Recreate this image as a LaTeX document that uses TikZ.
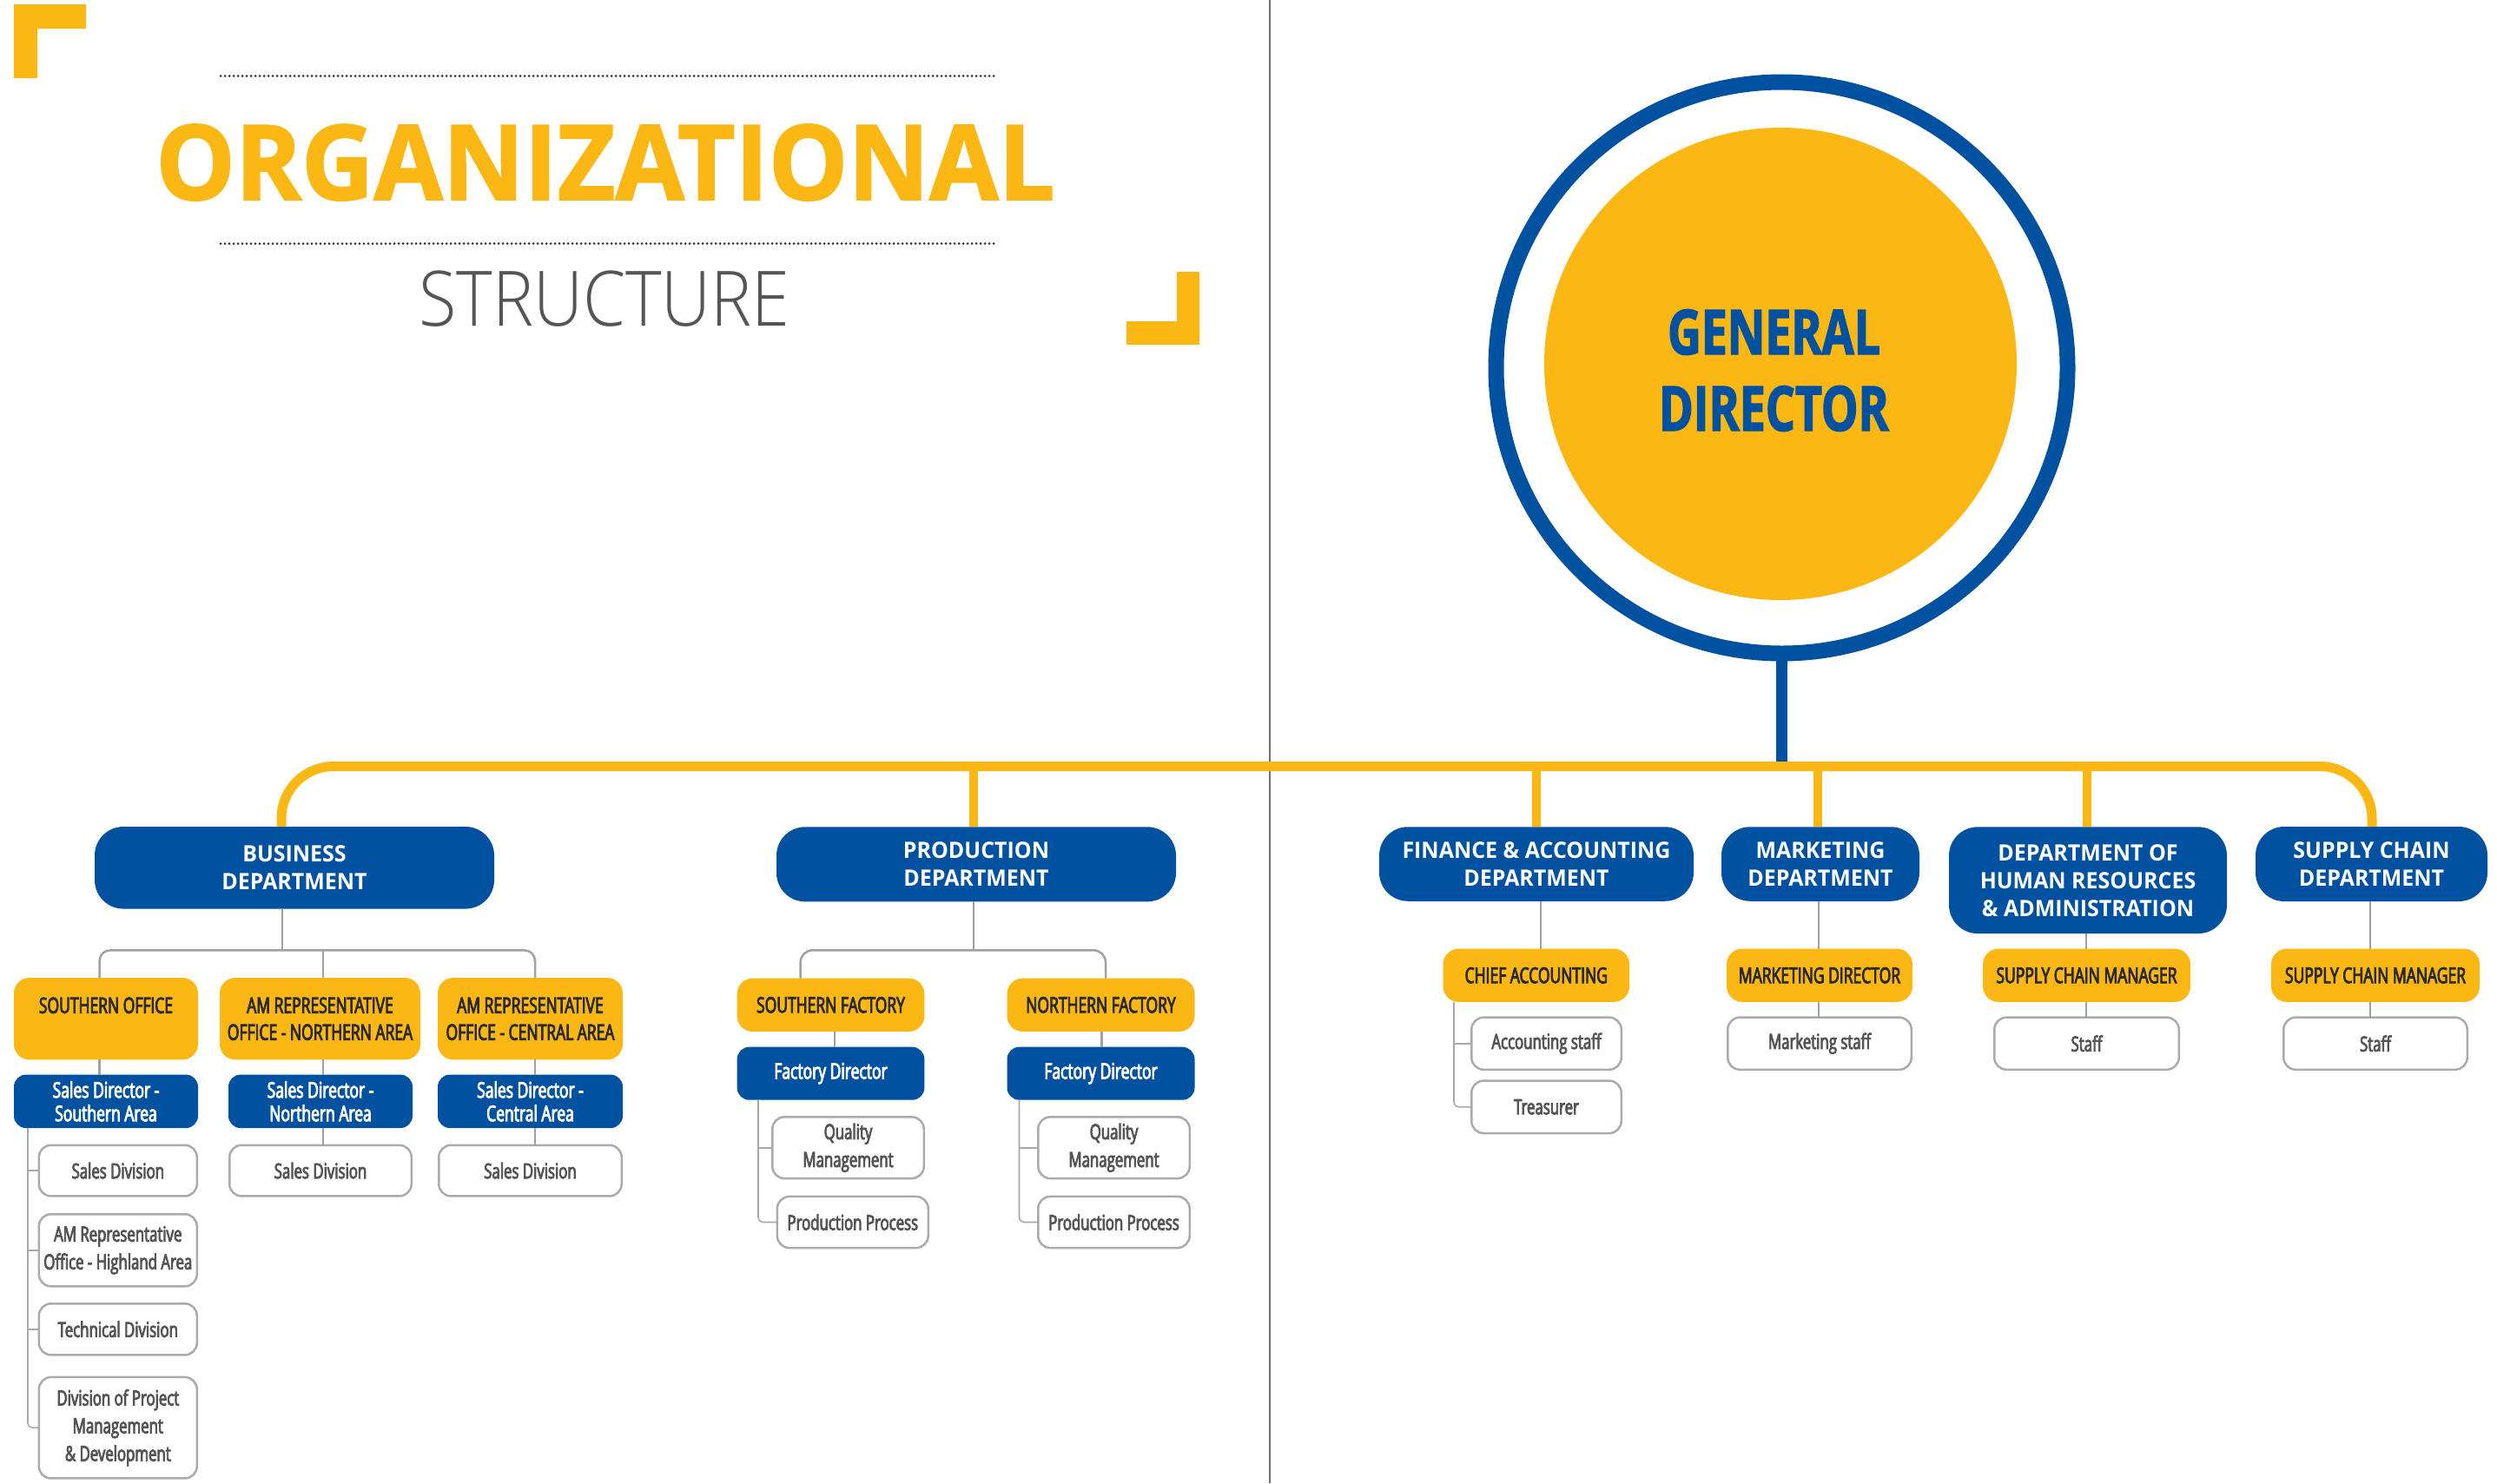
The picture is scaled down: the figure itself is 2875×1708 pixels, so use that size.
\documentclass[tikz,border=0pt]{standalone}
\usepackage{fontspec}
\setmainfont{Open Sans}
\newfontfamily\hd{Open Sans}[FakeStretch=0.96]
\newfontfamily\ttl{Open Sans}[FakeStretch=0.96, FakeBold=1.5]
\IfFontExistsTF{Open Sans Light}{\newfontfamily\stc{Open Sans Light}[FakeStretch=0.90]}{\newfontfamily\stc{Open Sans}[FakeStretch=0.90]}
\newfontfamily\gdf{Open Sans}[FakeStretch=0.75, FakeBold=2.0]
\newfontfamily\cnd{Open Sans}[FakeStretch=0.70, FakeBold=3.5]
\definecolor{yel}{HTML}{FBB714}
\definecolor{blu}{HTML}{00519F}
\definecolor{dk}{HTML}{2A2A2A}
\definecolor{tgray}{HTML}{555555}
\definecolor{cgray}{HTML}{A0A1A3}
\definecolor{bgray}{HTML}{ABABAB}
\definecolor{lgray}{HTML}{A8A8A8}
\definecolor{dgray}{HTML}{333333}
\definecolor{divg}{HTML}{707070}
\tikzset{
 dept/.style={fill=blu, rounded corners=16.5pt, text=white, font=\hd\bfseries\fontsize{13}{16}\selectfont, align=center, inner sep=0pt, outer sep=0pt},
 ybox/.style={fill=yel, rounded corners=9pt, text=dk, font=\cnd\fontsize{12.5}{15.5}\selectfont, align=center, inner sep=0pt, outer sep=0pt},
 bbox/.style={fill=blu, rounded corners=7pt, text=white, font=\cnd\fontsize{12.5}{13.5}\selectfont, align=center, inner sep=0pt, outer sep=0pt},
 wbox/.style={draw=bgray, line width=1.25pt, fill=white, rounded corners=7pt, text=tgray, font=\cnd\fontsize{12}{16}\selectfont, align=center, inner sep=0pt, outer sep=0pt},
 conn/.style={draw=cgray, line width=1.25pt},
 treeline/.style={draw=lgray, line width=0.8pt},
 ybar/.style={draw=yel, line width=5.5pt},
 ydrop/.style={draw=yel, line width=5.25pt},
 stemline/.style={draw=blu, line width=6.5pt},
 dotline/.style={draw=dgray, line width=1.5pt, line cap=round, dash pattern=on 0pt off 2.5pt},
}
\begin{document}
\begin{tikzpicture}[x=0.5pt,y=-0.5pt]
\useasboundingbox (0,0) rectangle (2875,1708);
\fill[white] (0,0) rectangle (2875,1708);
% divider
\draw[divg, line width=1pt] (1462,0) -- (1462,1708);
% corner marks
\fill[yel] (16,5) -- (99,5) -- (99,33) -- (43,33) -- (43,90) -- (16,90) -- cycle;
\fill[yel] (1381,313) -- (1381,397) -- (1297,397) -- (1297,370) -- (1355,370) -- (1355,313) -- cycle;
% title
\draw[dotline] (254,87.5) -- (1144,87.5);
\draw[dotline] (254,280.5) -- (1144,280.5);
\node[anchor=base, text=yel, font=\ttl\bfseries\fontsize{60}{60}\selectfont, inner sep=0pt] (title) at (697,230) {ORGANIZATIONAL};
\node[anchor=base, text=tgray, font=\stc\fontsize{44}{44}\selectfont, inner sep=0pt] (subtitle) at (696,375) {STRUCTURE};
% general director
\node[circle, draw=blu, line width=9pt, minimum size=329pt, inner sep=0pt, outer sep=0pt] (ring) at (2051.5,423.5) {};
\node[circle, fill=yel, minimum size=272pt, inner sep=0pt] (gdc) at (2050,419) {};
\node[align=center, text=blu, font=\gdf\bfseries\fontsize{35.7}{44}\selectfont, inner sep=0pt] (gd) at (2042.5,426.5) {GENERAL\\DIRECTOR};
% departments
\node[dept, minimum width=230pt, minimum height=47.25pt] (bus) at (339,999.3) {BUSINESS\\DEPARTMENT};
\node[dept, minimum width=230pt, minimum height=43pt] (prod) at (1124,995.3) {PRODUCTION\\DEPARTMENT};
\node[dept, minimum width=181pt, minimum height=42.75pt] (fin) at (1769,995) {FINANCE \& ACCOUNTING\\DEPARTMENT};
\node[dept, minimum width=114pt, minimum height=42.75pt] (mkt) at (2096,995) {MARKETING\\DEPARTMENT};
\node[dept, minimum width=160pt, minimum height=61.35pt] (hr) at (2404,1013.7) {DEPARTMENT OF\\HUMAN RESOURCES\\\& ADMINISTRATION};
\node[dept, minimum width=133.5pt, minimum height=43pt] (sc) at (2730.5,995) {SUPPLY CHAIN\\DEPARTMENT};
% yellow bar and stem
\coordinate (yL) at (324,882.5);
\coordinate (yR) at (2731,882.5);
\coordinate (y1) at (1121,882.5);
\coordinate (y2) at (1769,882.5);
\coordinate (y3) at (2093,882.5);
\coordinate (y4) at (2403,882.5);
\draw[stemline] (ring.south) -- (ring.south |- yL);
\draw[ybar, rounded corners=30pt] (bus.north -| yL) -- (yL) -- (yR) -- (sc.north -| yR);
\draw[ydrop] (y1) -- (y1 |- prod.north);
\draw[ydrop] (y2) -- (y2 |- fin.north);
\draw[ydrop] (y3) -- (y3 |- mkt.north);
\draw[ydrop] (y4) -- (y4 |- hr.north);
% business department
\node[ybox, minimum width=106pt, minimum height=47.2pt] (so) at (122,1173.2) {SOUTHERN OFFICE\\\mbox{}};
\node[ybox, minimum width=115.5pt, minimum height=47.2pt] (amn) at (368.5,1173.2) {AM REPRESENTATIVE\\OFFICE - NORTHERN AREA};
\node[ybox, minimum width=106.5pt, minimum height=47.2pt] (amc) at (610.5,1173.2) {AM REPRESENTATIVE\\OFFICE - CENTRAL AREA};
\node[bbox, minimum width=106pt, minimum height=30.75pt] (sds) at (122,1268.3) {Sales Director -\\Southern Area};
\node[bbox, minimum width=106pt, minimum height=30.75pt] (sdn) at (369,1268.3) {Sales Director -\\Northern Area};
\node[bbox, minimum width=106.5pt, minimum height=30.75pt] (sdc) at (610.5,1268.3) {Sales Director -\\Central Area};
\node[wbox, minimum width=91pt, minimum height=29.35pt] (sdvs) at (135.8,1348.1) {Sales Division};
\node[wbox, minimum width=91pt, minimum height=41.55pt] (amh) at (135.8,1439.8) {AM Representative\\Office - Highland Area};
\node[wbox, minimum width=91pt, minimum height=29.55pt] (tech) at (135.8,1530.8) {Technical Division};
\node[wbox, minimum width=91pt, minimum height=58.25pt] (dpm) at (135.8,1644.2) {Division of Project\\Management\\\& Development};
\node[wbox, minimum width=104.75pt, minimum height=29.35pt] (sdvn) at (369,1348.1) {Sales Division};
\node[wbox, minimum width=105.25pt, minimum height=29.35pt] (sdvc) at (610.5,1348.1) {Sales Division};
\coordinate (bj) at (325,1094.4);
\coordinate (bl) at (114.6,1094.4);
\coordinate (bm) at (372,1094.4);
\coordinate (br) at (616,1094.4);
\coordinate (tS) at (32,1299);
\draw[conn] (bus.south -| bj) -- (bj);
\draw[conn, rounded corners=6pt] (so.north -| bl) -- (bl) -- (br) -- (amc.north -| br);
\draw[conn] (bm) -- (amn.north -| bm);
\draw[conn] (so.south -| bl) -- (sds.north -| bl);
\draw[conn] (amn.south -| bm) -- (sdn.north -| bm);
\draw[conn] (amc.south -| br) -- (sdc.north -| br);
\draw[conn] (sdn.south -| bm) -- (sdvn.north -| bm);
\draw[conn] (sdc.south -| br) -- (sdvc.north -| br);
\draw[treeline, rounded corners=3pt] (sds.south -| tS) -- (dpm.west -| tS) -- (dpm.west);
\draw[treeline] (sdvs.west -| tS) -- (sdvs.west);
\draw[treeline] (amh.west -| tS) -- (amh.west);
\draw[treeline] (tech.west -| tS) -- (tech.west);
% production department
\node[ybox, minimum width=107.85pt, minimum height=30.65pt] (sf) at (956.5,1157.3) {SOUTHERN FACTORY};
\node[ybox, minimum width=108pt, minimum height=30.65pt] (nf) at (1267.5,1157.3) {NORTHERN FACTORY};
\node[bbox, minimum width=107.85pt, minimum height=30.5pt] (fd1) at (956.5,1236.2) {Factory Director};
\node[bbox, minimum width=108pt, minimum height=30.5pt] (fd2) at (1267.5,1236.2) {Factory Director};
\node[wbox, minimum width=87.25pt, minimum height=35.4pt] (qm1) at (976.5,1321.7) {Quality\\Management};
\node[wbox, minimum width=86.95pt, minimum height=29.55pt] (pp1) at (981.8,1407.5) {Production Process};
\node[wbox, minimum width=87.25pt, minimum height=35.4pt] (qm2) at (1282.5,1321.7) {Quality\\Management};
\node[wbox, minimum width=87.25pt, minimum height=29.55pt] (pp2) at (1282.5,1407.5) {Production Process};
\coordinate (pj) at (1121,1094.3);
\coordinate (pl) at (921.6,1094.3);
\coordinate (pr) at (1273,1094.3);
\coordinate (px1) at (961,0);
\coordinate (px2) at (1268.7,0);
\coordinate (pt1) at (873,0);
\coordinate (pt2) at (1173.5,0);
\draw[conn] (prod.south -| pj) -- (pj);
\draw[conn, rounded corners=7pt] (sf.north -| pl) -- (pl) -- (pr) -- (nf.north -| pr);
\draw[conn] (sf.south -| px1) -- (fd1.north -| px1);
\draw[conn] (nf.south -| px2) -- (fd2.north -| px2);
\draw[treeline, rounded corners=3pt] (fd1.south -| pt1) -- (pp1.west -| pt1) -- (pp1.west);
\draw[treeline] (qm1.west -| pt1) -- (qm1.west);
\draw[treeline, rounded corners=3pt] (fd2.south -| pt2) -- (pp2.west -| pt2) -- (pp2.west);
\draw[treeline] (qm2.west -| pt2) -- (qm2.west);
% right departments
\node[ybox, minimum width=107.25pt, minimum height=30.65pt] (ca) at (1768.8,1123.2) {CHIEF ACCOUNTING};
\node[ybox, minimum width=107pt, minimum height=30.65pt] (md) at (2095,1123.2) {MARKETING DIRECTOR};
\node[ybox, minimum width=119.5pt, minimum height=30.65pt] (scm1) at (2402.5,1123.2) {SUPPLY CHAIN MANAGER};
\node[ybox, minimum width=120pt, minimum height=30.65pt] (scm2) at (2735,1123.2) {SUPPLY CHAIN MANAGER};
\node[wbox, minimum width=86.25pt, minimum height=30.05pt] (acc) at (1780.5,1201.7) {Accounting staff};
\node[wbox, minimum width=86.25pt, minimum height=30.25pt] (tre) at (1780.5,1274.8) {Treasurer};
\node[wbox, minimum width=105.75pt, minimum height=30.05pt] (mks) at (2095,1201.7) {Marketing staff};
\node[wbox, minimum width=106.25pt, minimum height=30.05pt] (st1) at (2402.5,1201.7) {Staff};
\node[wbox, minimum width=105.75pt, minimum height=30.05pt] (st2) at (2735,1201.7) {Staff};
\coordinate (fx) at (1774,0);
\coordinate (mx) at (2094,0);
\coordinate (hx) at (2402,0);
\coordinate (sx) at (2729,0);
\coordinate (tf) at (1674,0);
\draw[conn] (fin.south -| fx) -- (ca.north -| fx);
\draw[conn] (mkt.south -| mx) -- (md.north -| mx);
\draw[conn] (hr.south -| hx) -- (scm1.north -| hx);
\draw[conn] (sc.south -| sx) -- (scm2.north -| sx);
\draw[conn] (md.south -| mx) -- (mks.north -| mx);
\draw[conn] (scm1.south -| hx) -- (st1.north -| hx);
\draw[conn] (scm2.south -| sx) -- (st2.north -| sx);
\draw[treeline, rounded corners=3pt] (ca.south -| tf) -- (tre.west -| tf) -- (tre.west);
\draw[treeline] (acc.west -| tf) -- (acc.west);
\end{tikzpicture}
\end{document}
